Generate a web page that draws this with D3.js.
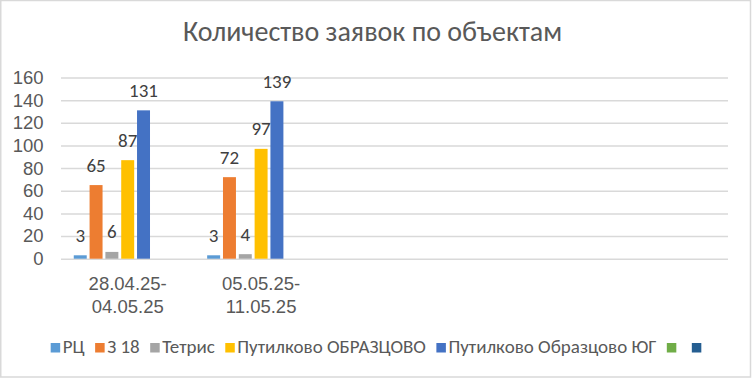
<!DOCTYPE html>
<html>
<head>
<meta charset="utf-8">
<script src="https://cdn.jsdelivr.net/npm/d3@7"></script>
<style>
  html, body { margin: 0; padding: 0; background: #fff; }
  svg { display: block; font-family: Carlito, Calibri, "Liberation Sans Narrow", "Liberation Sans", sans-serif; }
</style>
</head>
<body>
<svg id="chart" width="752" height="379"></svg>
<script>
const title = "Количество заявок по объектам";
const categories = [["28.04.25-", "04.05.25"], ["05.05.25-", "11.05.25"], [""], [""], [""]];
const seriesNames = ["РЦ", "З 18", "Тетрис", "Путилково ОБРАЗЦОВО", "Путилково Образцово ЮГ", "", ""];
const seriesColors = ["#5B9BD5", "#ED7D31", "#A5A5A5", "#FFC000", "#4472C4", "#70AD47", "#255E91"];
const valuesRC = [3, 3, null, null, null];
const valuesZ18 = [65, 72, null, null, null];
const valuesTetris = [6, 4, null, null, null];
const valuesPutOBR = [87, 97, null, null, null];
const valuesPutYug = [131, 139, null, null, null];
const valuesEmpty1 = [null, null, null, null, null];
const valuesEmpty2 = [null, null, null, null, null];
const yTicks = [0, 20, 40, 60, 80, 100, 120, 140, 160];

const seriesValues = [valuesRC, valuesZ18, valuesTetris, valuesPutOBR, valuesPutYug, valuesEmpty1, valuesEmpty2];

const svg = d3.select("#chart");
const textColor = "#595959";

// border
svg.append("rect").attr("x", 0.75).attr("y", 0.5).attr("width", 749.75).attr("height", 376.5)
  .attr("fill", "#fff").attr("stroke", "#d9d9d9").attr("stroke-width", 1.5);

// title
svg.append("text").attr("x", 372.5).attr("y", 40.5).attr("text-anchor", "middle")
  .attr("fill", textColor).style("font-size", "28px").text(title);

const plot = {left: 61, right: 728, top: 77.5, bottom: 258.7};

const x0 = d3.scaleBand().domain(d3.range(categories.length)).range([plot.left, plot.right]).paddingInner(0.17).paddingOuter(0.085);
const x1 = d3.scaleBand().domain(d3.range(seriesNames.length)).range([0, x0.bandwidth()]).paddingInner(0.18).paddingOuter(0.09);
const y = d3.scaleLinear().domain([0, 160]).range([plot.bottom, plot.top]);

// gridlines + y tick labels
const yAxis = d3.axisLeft(y).tickValues(yTicks).tickSize(-(plot.right - plot.left)).tickPadding(17.5);
const gy = svg.append("g").attr("transform", `translate(${plot.left},0)`).call(yAxis);
gy.select(".domain").remove();
gy.selectAll(".tick line").attr("stroke", "#d9d9d9").attr("stroke-width", 1.5);
gy.selectAll(".tick text").attr("fill", textColor).style("font-size", "18.5px").attr("font-family", null);

// bars
const groups = svg.append("g").selectAll("g").data(categories).join("g")
  .attr("transform", (d, i) => `translate(${x0(i)},0)`);

const barData = (ci) => seriesValues.map((vals, si) => ({si, v: vals[ci]})).filter(d => d.v != null);

groups.selectAll("rect").data((d, ci) => barData(ci)).join("rect")
  .attr("x", d => x1(d.si)).attr("width", x1.bandwidth())
  .attr("y", d => y(d.v)).attr("height", d => y(0) - y(d.v))
  .attr("fill", d => seriesColors[d.si]);

groups.selectAll("text.lbl").data((d, ci) => barData(ci)).join("text").attr("class", "lbl")
  .attr("x", d => x1(d.si) + x1.bandwidth() / 2).attr("y", d => y(d.v) - 13.5)
  .attr("text-anchor", "middle").attr("fill", "#404040").style("font-size", "19px")
  .text(d => d.v);

// x axis labels
const xAxis = d3.axisBottom(x0).tickSize(0).tickFormat(() => "");
const gx = svg.append("g").attr("transform", `translate(0,${plot.bottom})`).call(xAxis);
gx.select(".domain").remove();
gx.selectAll(".tick").each(function(d) {
  const t = d3.select(this).append("text").attr("text-anchor", "middle").attr("fill", textColor).style("font-size", "18.5px");
  categories[d].forEach((line, k) => {
    t.append("tspan").attr("x", 0).attr("y", 31.5 + k * 23.3).text(line);
  });
});

// legend
const legend = svg.append("g");
let cx = 0;
seriesNames.forEach((name, i) => {
  const g = legend.append("g").attr("transform", `translate(${cx},0)`);
  g.append("rect").attr("x", 0).attr("y", -5).attr("width", 9.5).attr("height", 9.5).attr("fill", seriesColors[i]);
  if (name) {
    const t = g.append("text").attr("x", 12).attr("y", 5).attr("fill", textColor).style("font-size", "19px").text(name);
    const w = t.node().getComputedTextLength();
    cx += 12 + w + 10.5;
  } else {
    cx += 25;
  }
});
const lw = cx - 15.5;
legend.attr("transform", `translate(${376 - lw / 2},348)`);
</script>
</body>
</html>
